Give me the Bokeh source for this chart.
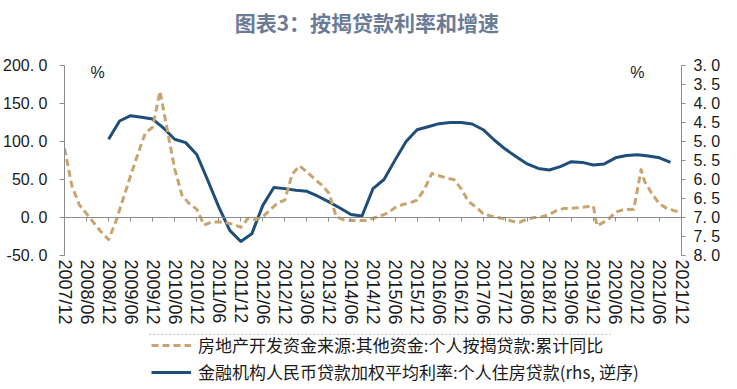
from bokeh.plotting import figure
from bokeh.models import (Range1d, LinearAxis, FixedTicker, Label, Legend,
                          LegendItem)
from bokeh.layouts import column
from bokeh.embed import file_html
from bokeh.resources import INLINE

# ---------------- data ----------------
tick_labels = ["2007/12", "2008/06", "2008/12", "2009/06", "2009/12", "2010/06",
               "2010/12", "2011/06", "2011/12", "2012/06", "2012/12", "2013/06",
               "2013/12", "2014/06", "2014/12", "2015/06", "2015/12", "2016/06",
               "2016/12", "2017/06", "2017/12", "2018/06", "2018/12", "2019/06",
               "2019/12", "2020/06", "2020/12", "2021/06", "2021/12"]

# 房地产开发资金来源:其他资金:个人按揭贷款:累计同比 (%)
mortgage_dates = ["2007/12", "2008/02", "2008/04", "2008/06", "2008/08", "2008/10",
                  "2008/12", "2009/02", "2009/04", "2009/06", "2009/08", "2009/10",
                  "2009/12", "2010/02", "2010/04", "2010/06", "2010/08", "2010/10",
                  "2010/12", "2011/02", "2011/04", "2011/06", "2011/08", "2011/10",
                  "2011/12", "2012/02", "2012/04", "2012/06", "2012/08", "2012/10",
                  "2012/12", "2013/02", "2013/04", "2013/06", "2013/08", "2013/10",
                  "2013/12", "2014/02", "2014/04", "2014/06", "2014/08", "2014/10",
                  "2014/12", "2015/02", "2015/04", "2015/06", "2015/08", "2015/10",
                  "2015/12", "2016/02", "2016/04", "2016/06", "2016/08", "2016/10",
                  "2016/12", "2017/02", "2017/04", "2017/06", "2017/08", "2017/10",
                  "2017/12", "2018/02", "2018/04", "2018/06", "2018/08", "2018/10",
                  "2018/12", "2019/02", "2019/04", "2019/06", "2019/08", "2019/10",
                  "2019/12", "2020/01", "2020/04", "2020/06", "2020/08", "2020/11",
                  "2021/01", "2021/02", "2021/04", "2021/06", "2021/08", "2021/10",
                  "2021/12"]
mortgage_growth = [91, 42, 17, 5, -7, -19,
                   -29, -5, 25, 55, 84, 111,
                   119, 166, 115, 64, 29, 18,
                   11, -10, -6, -6, -7, -9,
                   -13, -1, -3, 1, 10, 19,
                   23, 57, 68, 60, 51, 43,
                   32, 1, -3, -4, -4, -4,
                   -1, 2, 6, 13, 17, 19,
                   23, 37, 58, 55, 52, 50,
                   38, 21, 14, 5, 2, 0,
                   -2, -5, -6, -2, 0, 1,
                   4, 9, 12, 12, 13, 14,
                   15, -11, -3, 7, 10, 11,
                   63, 47, 31, 18, 12, 9,
                   7]

# 金融机构人民币贷款加权平均利率:个人住房贷款 (%), quarterly from 2008/12
rate_start = "2008/12"
rate_values = [4.94, 4.46, 4.32, 4.36, 4.41, 4.65, 4.94, 5.03, 5.34, 6.02,
               6.72, 7.34, 7.63, 7.43, 6.68, 6.21, 6.24, 6.28, 6.31, 6.44,
               6.59, 6.75, 6.92, 6.96, 6.24, 6.00, 5.49, 5.00, 4.69, 4.61,
               4.53, 4.50, 4.50, 4.54, 4.69, 4.96, 5.20, 5.40, 5.59, 5.71,
               5.75, 5.66, 5.53, 5.55, 5.62, 5.59, 5.43, 5.37, 5.35, 5.38,
               5.43, 5.55]

left_ticks = [-50, 0, 50, 100, 150, 200]
right_ticks = [3.0, 3.5, 4.0, 4.5, 5.0, 5.5, 6.0, 6.5, 7.0, 7.5, 8.0]

label_dash = "房地产开发资金来源:其他资金:个人按揭贷款:累计同比"
label_rate = "金融机构人民币贷款加权平均利率:个人住房贷款(rhs, 逆序)"
title_text = "图表3：按揭贷款利率和增速"


def month_index(s):
    y, m = s.split("/")
    return (int(y) - 2007) * 12 + int(m) - 12


mort_x = [month_index(d) for d in mortgage_dates]
r0 = month_index(rate_start)
rate_x = [r0 + 3 * i for i in range(len(rate_values))]
tick_pos = [month_index(t) for t in tick_labels]

DASH_COLOR = "#C8A46E"
BLUE_COLOR = "#1F4E79"
AXIS_COLOR = "#8c8c8c"
TXT = "#1a1a1a"
W = 729
BL, BR = 63, 48          # left / right borders (frame 63..681)


def bare_strip(height, top=0, bottom=0):
    f = figure(width=W, height=height, output_backend="svg", toolbar_location=None,
               title=None, x_range=Range1d(0, 1), y_range=Range1d(0, 1),
               x_axis_location=None, y_axis_location=None,
               min_border_left=BL, min_border_right=BR, min_border_top=top,
               min_border_bottom=bottom)
    f.grid.visible = False
    f.outline_line_color = None
    f.background_fill_color = "white"
    f.border_fill_color = "white"
    return f


# ---------------- title strip ----------------
t = bare_strip(42)
t.add_layout(Label(x=0.49, y=0.5, text=title_text, text_align="center",
                   text_baseline="middle", text_font="Noto Sans CJK SC",
                   text_font_size="21px", text_font_style="bold",
                   text_color="#6b7b96"))

# ---------------- main figure ----------------
p = figure(width=W, height=289, output_backend="svg", toolbar_location=None,
           title=None, x_range=Range1d(0, 168), y_range=Range1d(-50, 200),
           min_border_left=BL, min_border_right=BR, min_border_top=23,
           min_border_bottom=76)
p.extra_y_ranges = {"rhs": Range1d(8, 3)}
p.grid.visible = False
p.outline_line_color = None
p.background_fill_color = "white"
p.border_fill_color = "white"

# left axis
ya = p.yaxis[0]
ya.ticker = FixedTicker(ticks=left_ticks)
ya.major_label_overrides = {v: f"{v:.1f}".replace(".", ". ") for v in left_ticks}
ya.axis_line_color = AXIS_COLOR
ya.major_tick_line_color = AXIS_COLOR
ya.major_tick_out = 5
ya.major_tick_in = 0
ya.minor_tick_line_color = None
ya.major_label_standoff = 12
ya.major_label_text_font = "Liberation Sans"
ya.major_label_text_font_size = "16px"
ya.major_label_text_color = TXT

# right axis
ra = LinearAxis(y_range_name="rhs", ticker=FixedTicker(ticks=right_ticks))
ra.major_label_overrides = {v: f"{v:.1f}".replace(".", ". ") for v in right_ticks}
ra.axis_line_color = AXIS_COLOR
ra.major_tick_line_color = AXIS_COLOR
ra.major_tick_out = 4
ra.major_tick_in = 0
ra.minor_tick_line_color = None
ra.major_label_standoff = 8
ra.major_label_text_font = "Liberation Sans"
ra.major_label_text_font_size = "16px"
ra.major_label_text_color = TXT
p.add_layout(ra, "right")

# bottom axis: labels only
xa = p.xaxis[0]
xa.ticker = FixedTicker(ticks=tick_pos)
xa.major_label_overrides = {pos: lab for pos, lab in zip(tick_pos, tick_labels)}
xa.major_label_orientation = "vertical"
xa.axis_line_color = None
xa.major_tick_line_color = None
xa.minor_tick_line_color = None
xa.major_tick_out = 0
xa.major_tick_in = 0
xa.major_label_standoff = 4
xa.major_label_text_font = "Liberation Sans"
xa.major_label_text_font_size = "18px"
xa.major_label_text_color = TXT

# zero-line axis with ticks
za = LinearAxis(fixed_location=0, ticker=FixedTicker(ticks=tick_pos))
za.major_label_text_font_size = "0px"
za.major_label_text_alpha = 0
za.major_label_standoff = 0
za.axis_line_color = AXIS_COLOR
za.major_tick_line_color = AXIS_COLOR
za.major_tick_out = 4
za.major_tick_in = 0
za.minor_tick_line_color = None
p.add_layout(za, "below")

# lines
p.line(rate_x, rate_values, y_range_name="rhs", line_color=BLUE_COLOR,
       line_width=3, line_join="round")
p.line(mort_x, mortgage_growth, line_color=DASH_COLOR, line_width=3,
       line_dash="7 4", line_join="round")

# % unit labels
p.add_layout(Label(x=9, y=191, text="%", text_align="center",
                   text_baseline="middle", text_font="Liberation Sans",
                   text_font_size="16px", text_color=TXT))
p.add_layout(Label(x=156, y=191, text="%", text_align="center",
                   text_baseline="middle", text_font="Liberation Sans",
                   text_font_size="16px", text_color=TXT))

# ---------------- legend strip ----------------
q = bare_strip(56, top=2)

# dotted separator above the legend (decoration)
q.line(x=[0.1375, 0.885], y=[0.985, 0.985], line_color="#b0b0b0",
       line_width=1, line_dash="2 2")

nan = float("nan")
dash_key = q.line(x=[0], y=[nan], line_color=DASH_COLOR, line_width=3,
                  line_dash="7 4")
blue_key = q.line(x=[0], y=[nan], line_color=BLUE_COLOR, line_width=3)
legend = Legend(items=[LegendItem(label=label_dash, renderers=[dash_key]),
                       LegendItem(label=label_rate, renderers=[blue_key])],
                location=(87, 3), orientation="vertical",
                glyph_width=40, glyph_height=18, label_height=18, spacing=2,
                padding=0, margin=0, border_line_color=None,
                background_fill_alpha=0, label_standoff=7,
                label_text_font="Noto Sans CJK SC", label_text_font_size="17px",
                label_text_color=TXT)
q.add_layout(legend)

open("out.html", "w").write(file_html(column(t, p, q), INLINE))
